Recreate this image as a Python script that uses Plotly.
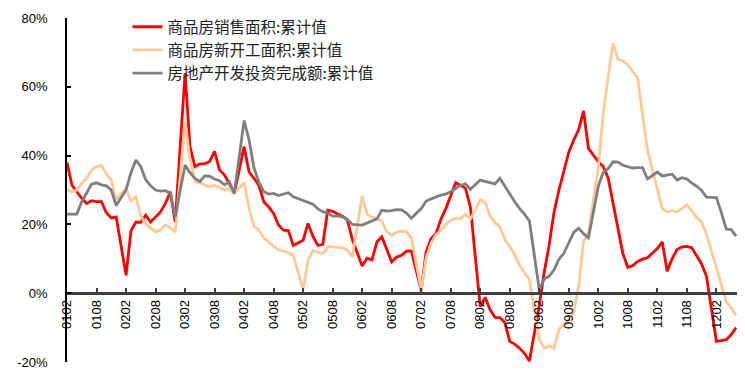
import plotly.graph_objects as go

# month labels (YYMM); January figures are not published, so Feb..Dec only
months = [f"{y:02d}{m:02d}" for y in range(1, 13) for m in range(2, 13)][:126]

sales_area = [  # 商品房销售面积:累计值 (%)
    38.0, 31.4, 29.5, 27.6, 26.1, 26.9, 26.6, 26.6, 23.4, 21.9, 22.2,
    5.2, 18.1, 20.7, 20.6, 22.7, 20.7, 22.2, 23.6, 26.1, 29.5, 20.7,
    64.0, 42.6, 36.8, 37.6, 37.6, 38.3, 41.2, 35.8, 34.4, 31.9, 29.0,
    42.6, 35.3, 33.4, 31.4, 26.6, 25.1, 23.2, 19.8, 18.3, 18.2, 13.9,
    15.4, 20.3, 16.5, 13.9, 14.2, 24.1, 23.8, 23.0, 22.4, 21.3, 15.6,
    7.9, 10.2, 9.7, 14.9, 16.4, 12.5, 9.1, 10.5, 11.0, 12.2, 12.3,
    0.8, 12.0, 15.8, 17.3, 21.5, 24.6, 28.3, 32.1, 31.4, 30.5, 25.0,
    -3.9, -1.2, -4.8, -7.0, -7.1, -8.5, -14.0, -14.8, -16.0, -17.5, -19.7,
    -3.5, 6.0, 14.0, 23.5, 30.0, 35.5, 41.0, 44.5, 47.5, 53.0, 42.1,
    38.2, 36.8, 33.5, 26.0, 18.5, 11.5, 7.5, 8.0, 9.2, 9.9, 10.3,
    13.0, 14.9, 6.4, 10.0, 12.7, 13.5, 13.6, 13.2, 10.8, 8.5, 4.9,
    -14.0, -13.8, -13.5, -12.1, -10.0,
]

new_starts = [  # 商品房新开工面积:累计值 (%)
    30.0, 29.5, 30.0, 31.9, 33.4, 35.8, 36.8, 37.1, 34.7, 32.9, 27.2,
    30.5, 26.8, 28.0, 22.5, 20.2, 19.0, 17.8, 18.4, 19.8, 19.0, 17.8,
    49.9, 39.0, 32.5, 32.1, 31.4, 31.0, 31.4, 30.6, 30.0, 30.2, 29.0,
    32.1, 24.8, 19.5, 18.4, 16.0, 14.9, 13.8, 12.6, 12.2, 11.8, 11.0,
    1.0, 9.5, 12.4, 11.9, 11.5, 13.6, 13.4, 13.3, 13.2, 12.6, 10.6,
    28.3, 23.0, 22.1, 21.8, 21.0, 17.9, 16.8, 17.7, 18.0, 17.9, 16.0,
    1.0, 10.3, 14.5, 17.0, 18.2, 20.0, 21.2, 21.7, 21.7, 22.9, 21.6,
    27.1, 26.4, 22.5, 20.5, 19.3, 15.6, 13.5, 11.2, 8.0, 6.0, 4.0,
    -13.5, -16.0, -15.3, -16.1, -10.5, -9.0, -7.8, -5.5, 2.0, 15.0, 17.5,
    36.5, 52.0, 63.0, 72.6, 68.0, 67.5, 66.5, 64.5, 62.5, 52.0, 41.5,
    30.3, 24.5, 23.6, 24.0, 23.6, 24.6, 25.7, 24.0, 22.0, 20.8, 17.0,
    7.5, 2.3, -2.5, -4.2, -6.5,
]

investment = [  # 房地产开发投资完成额:累计值 (%)
    23.0, 23.0, 23.0, 26.6, 29.0, 31.7, 32.1, 31.5, 31.2, 30.0, 25.5,
    30.0, 35.0, 38.7, 36.8, 33.0, 31.2, 30.0, 29.7, 29.8, 29.0, 22.2,
    37.3, 35.0, 33.4, 32.4, 34.1, 34.0, 33.2, 32.7, 31.5, 32.4, 29.0,
    50.2, 44.6, 36.5, 32.3, 29.5, 28.8, 29.0, 28.4, 28.8, 29.2, 28.0,
    27.0, 26.6, 25.9, 24.5, 23.7, 23.3, 22.4, 22.5, 22.2, 21.4, 20.0,
    19.8, 20.4, 20.8, 21.6, 24.1, 23.9, 24.0, 24.3, 24.2, 23.3, 21.8,
    24.6, 26.8, 27.5, 28.0, 28.5, 28.8, 29.5, 30.4, 31.4, 31.8, 30.2,
    32.9, 32.5, 32.1, 31.8, 33.4, 31.0, 29.0, 26.6, 24.6, 23.0, 21.0,
    1.0, 4.1, 4.9, 6.8, 9.9, 11.6, 14.7, 17.7, 18.9, 17.3, 16.1,
    31.1, 35.1, 36.2, 38.2, 38.1, 37.2, 36.7, 36.4, 36.5, 36.5, 33.2,
    35.2, 34.1, 34.3, 34.6, 32.9, 33.6, 33.2, 32.0, 31.1, 29.9, 27.9,
    27.8, 23.5, 18.7, 18.5, 16.6,
]

tick_labels = ["0102", "0108", "0202", "0208", "0302", "0308", "0402", "0408",
               "0502", "0508", "0602", "0608", "0702", "0708", "0802", "0808",
               "0902", "0908", "1002", "1008", "1102", "1108", "1202"]

y_ticks = [-20, 0, 20, 40, 60, 80]
y_tick_labels = ["-20%", "0%", "20%", "40%", "60%", "80%"]

series_names = ["商品房销售面积:累计值", "商品房新开工面积:累计值", "房地产开发投资完成额:累计值"]
series_colors = ["#FF0000", "#FFC996", "#7F7F7F"]


def month_pos(lab):
    return (int(lab[:2]) - 1) * 12 + int(lab[2:]) - 2


x = [month_pos(m) for m in months]
tickvals = [month_pos(t) for t in tick_labels]

fig = go.Figure()
for name, vals, col in zip(series_names, [sales_area, new_starts, investment], series_colors):
    fig.add_trace(go.Scatter(x=x, y=vals, mode="lines", name=name,
                             line=dict(color=col, width=2.8)))

# the page body adds an 8px margin, so the figure is sized to fit inside it
fig.update_layout(
    width=737, height=363,
    margin=dict(l=59, r=6, t=10, b=9, autoexpand=False),
    paper_bgcolor="white", plot_bgcolor="white",
    showlegend=True,
    legend=dict(x=0.09, y=1.0227, xanchor="left", yanchor="top",
                bgcolor="rgba(0,0,0,0)",
                font=dict(family="Noto Sans CJK SC", size=15.5, color="#222222")),
    font=dict(family="Liberation Sans", size=13, color="black"),
)
fig.update_xaxes(
    range=[0, 136.6], anchor="free", position=0.2,
    tickmode="array", tickvals=tickvals, ticktext=tick_labels,
    tickangle=-90, ticks="inside", ticklen=4, tickwidth=1.5, tickcolor="#404040",
    showline=True, linecolor="#404040", linewidth=2.5,
    showgrid=False, zeroline=False,
    tickfont=dict(family="Liberation Sans", size=13, color="black"),
)
fig.update_yaxes(
    range=[-20, 80], tickmode="array", tickvals=y_ticks, ticktext=y_tick_labels,
    ticks="inside", ticklen=4, tickwidth=1.5, tickcolor="black",
    showline=True, linecolor="black", linewidth=1.5,
    showgrid=False, zeroline=False, ticklabelstandoff=15,
    tickfont=dict(family="Liberation Sans", size=13, color="black"),
)

fig.write_html("out.html")
